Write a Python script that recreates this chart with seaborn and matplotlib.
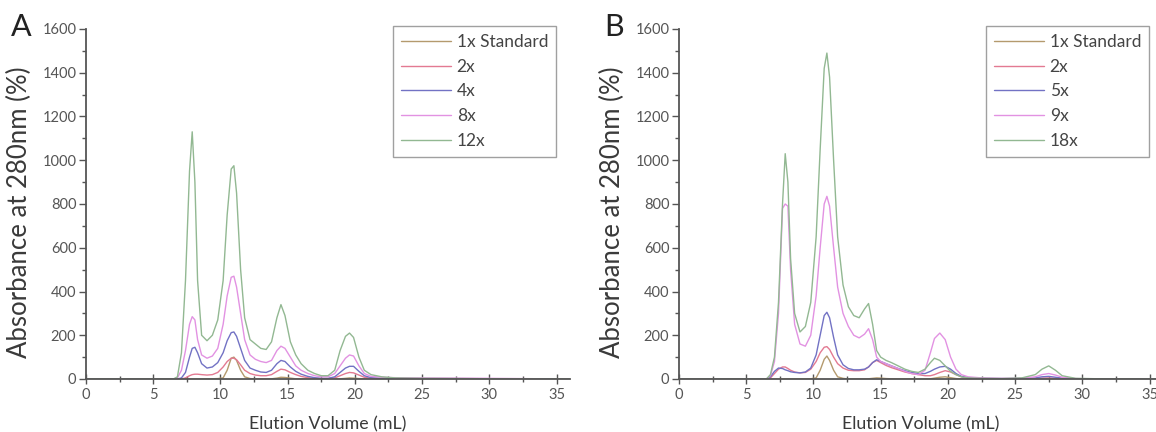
import numpy as np
import pandas as pd
import matplotlib
matplotlib.use("Agg")
import matplotlib.pyplot as plt
import seaborn as sns
from matplotlib.ticker import MultipleLocator

# ---------------- data ----------------
series_a = ["1x Standard", "2x", "4x", "8x", "12x"]
series_b = ["1x Standard", "2x", "5x", "9x", "18x"]

xa = [0, 6.5, 6.8, 7.1, 7.4, 7.7, 7.9, 8.1, 8.3, 8.6, 9.0, 9.4, 9.8, 10.2, 10.5, 10.8, 11.0, 11.2,
      11.5, 11.8, 12.2, 12.6, 13.0, 13.4, 13.8, 14.2, 14.5, 14.8, 15.2, 15.6, 16.0, 16.5, 17.0,
      17.5, 18.0, 18.5, 18.9, 19.3, 19.6, 19.9, 20.3, 20.7, 21.2, 22.0, 23.0, 25.0, 28.0, 32.0, 36.0]

a_1x = [0, 0, 0, 0, 0, 0, 0, 0, 0, 0, 0, 1, 2, 5, 40, 95, 100, 85,
        40, 10, 2, 0, 0, 0, 1, 4, 8, 7, 4, 1, 0, 0, 0,
        0, 0, 0, 1, 3, 5, 4, 2, 1, 0, 0, 0, 0, 0, 0, 0]
a_2x = [0, 0, 0, 0, 5, 15, 20, 22, 22, 20, 18, 20, 30, 55, 80, 95, 95, 88,
        65, 40, 25, 18, 15, 15, 20, 35, 45, 42, 30, 20, 12, 6, 3,
        2, 2, 5, 15, 25, 30, 28, 18, 8, 3, 2, 1, 1, 0, 0, 0]
a_4x = [0, 0, 0, 5, 30, 100, 140, 145, 120, 70, 50, 55, 75, 120, 175, 212, 215, 195,
        140, 85, 50, 40, 32, 30, 40, 70, 85, 80, 55, 35, 22, 12, 6,
        3, 3, 10, 30, 50, 58, 58, 35, 15, 6, 3, 2, 1, 1, 0, 0]
a_8x = [0, 0, 5, 40, 130, 250, 285, 270, 180, 110, 95, 105, 140, 250, 380, 465, 470, 420,
        300, 180, 110, 90, 80, 75, 85, 130, 150, 140, 100, 60, 40, 25, 15,
        10, 10, 25, 60, 95, 110, 105, 60, 25, 12, 8, 6, 5, 4, 2, 0]
a_12x = [0, 0, 10, 120, 450, 950, 1130, 900, 450, 200, 175, 200, 270, 450, 750, 960, 975, 850,
         500, 280, 180, 160, 140, 135, 170, 280, 340, 290, 170, 110, 70, 40, 25,
         15, 15, 40, 130, 195, 210, 190, 100, 40, 20, 10, 5, 3, 2, 0, 0]

xb = [0, 6.5, 6.8, 7.1, 7.4, 7.7, 7.9, 8.1, 8.3, 8.6, 9.0, 9.4, 9.8, 10.2, 10.5, 10.8, 11.0, 11.2,
      11.5, 11.8, 12.2, 12.6, 13.0, 13.4, 13.8, 14.1, 14.4, 14.7, 15.0, 15.4, 15.8, 16.3, 16.8,
      17.3, 17.8, 18.3, 18.7, 19.0, 19.4, 19.8, 20.2, 20.6, 21.0, 21.5, 22.5, 24.0, 25.5, 26.5,
      27.0, 27.5, 28.0, 28.5, 29.5, 32.0, 36.0]

b_1x = [0, 0, 0, 0, 0, 0, 0, 0, 0, 0, 0, 0, 1, 5, 40, 90, 105, 85,
        40, 10, 3, 0, 0, 0, 0, 1, 3, 5, 4, 2, 1, 0, 0,
        0, 0, 0, 1, 4, 8, 10, 6, 2, 0, 0, 0, 0, 0, 0,
        0, 0, 0, 0, 0, 0, 0]
b_2x = [0, 0, 5, 25, 45, 55, 55, 48, 40, 32, 28, 30, 45, 80, 120, 145, 148, 135,
        100, 70, 50, 40, 38, 38, 42, 55, 75, 85, 75, 62, 52, 42, 32,
        25, 20, 15, 15, 20, 30, 38, 32, 20, 10, 5, 2, 1, 1, 2,
        4, 5, 3, 1, 0, 0, 0]
b_5x = [0, 0, 10, 35, 50, 48, 42, 38, 33, 30, 28, 32, 50, 110, 200, 290, 305, 280,
        190, 110, 65, 48, 42, 42, 45, 55, 75, 88, 80, 70, 60, 48, 38,
        30, 25, 25, 35, 45, 55, 58, 45, 25, 12, 6, 3, 2, 2, 5,
        10, 12, 8, 4, 1, 0, 0]
b_9x = [0, 0, 15, 80, 300, 780, 800, 790, 500, 250, 160, 150, 200, 380, 600, 800, 835, 790,
        600, 420, 300, 240, 200, 188, 205, 230, 180, 100, 80, 70, 60, 48, 35,
        25, 20, 40, 120, 185, 210, 180, 100, 45, 20, 10, 5, 3, 4, 10,
        20, 25, 18, 8, 2, 0, 0]
b_18x = [0, 0, 20, 100, 350, 800, 1030, 900, 550, 300, 215, 240, 350, 650, 1050, 1420, 1490, 1380,
         1000, 650, 430, 330, 290, 280, 320, 345, 250, 130, 100, 85, 75, 60, 45,
         35, 30, 45, 75, 95, 85, 60, 35, 20, 10, 5, 3, 2, 5, 20,
         45, 60, 40, 15, 3, 0, 0]

colors = ["#b49a6e", "#e37a92", "#7272c4", "#e292e2", "#92b892"]

x_ticks = [0, 5, 10, 15, 20, 25, 30, 35]
y_ticks = [0, 200, 400, 600, 800, 1000, 1200, 1400, 1600]

# ---------------- style ----------------
sns.set_theme(style="ticks")
plt.rcParams["font.family"] = ["Lato", "DejaVu Sans"]

W, H = 1156, 432
fig = plt.figure(figsize=(W / 100, H / 100), dpi=100)

def make_df(x, names, vals):
    frames = []
    for n, v in zip(names, vals):
        frames.append(pd.DataFrame({"x": x, "y": v, "series": n}))
    return pd.concat(frames, ignore_index=True)

panels = [
    (86, "A", xa, series_a, [a_1x, a_2x, a_4x, a_8x, a_12x]),
    (679, "B", xb, series_b, [b_1x, b_2x, b_5x, b_9x, b_18x]),
]

gray = "#555555"
for left_px, letter, x, names, vals in panels:
    ax = fig.add_axes([left_px / W, 53 / H, 484 / W, 350 / H])
    df = make_df(x, names, vals)
    sns.lineplot(data=df, x="x", y="y", hue="series", hue_order=names,
                 palette=colors, estimator=None, lw=1.0, ax=ax, legend=False)
    ax.set_xlim(0, 36)
    ax.set_ylim(0, 1600)
    ax.set_xticks(x_ticks)
    ax.set_yticks(y_ticks)
    ax.xaxis.set_minor_locator(MultipleLocator(2.5))
    ax.yaxis.set_minor_locator(MultipleLocator(100))
    for s in ["top", "right"]:
        ax.spines[s].set_visible(False)
    for s in ["left", "bottom"]:
        ax.spines[s].set_color(gray)
        ax.spines[s].set_linewidth(1.3)
    ax.tick_params(axis="y", which="major", direction="out", length=5, width=1,
                   color=gray, labelcolor=gray, labelsize=10.5, pad=2)
    ax.tick_params(axis="y", which="minor", direction="out", length=3, width=1, color=gray)
    ax.tick_params(axis="x", which="major", direction="inout", length=7, width=1,
                   color=gray, labelcolor=gray, labelsize=10.5, pad=3)
    ax.tick_params(axis="x", which="minor", direction="inout", length=4, width=1, color=gray)

    ax.set_ylabel("Absorbance at 280nm (%)", fontsize=18.5, color="#3a3a3a")
    ax.yaxis.set_label_coords(-0.138, 0.475)
    ax.yaxis.label.set_va("center")
    ax.set_xlabel("Elution Volume (mL)", fontsize=12.8, color="#3a3a3a")
    ax.xaxis.set_label_coords(0.5, -0.13)
    ax.xaxis.label.set_va("center")

    handles = ax.get_lines()[:5]
    leg = ax.legend(handles=handles, labels=names, loc="upper right",
                    bbox_to_anchor=(0.971, 1.008), borderaxespad=0,
                    fontsize=12.5, frameon=True, fancybox=False,
                    handlelength=2.9, handletextpad=0.3, labelspacing=0.5,
                    borderpad=0.45)
    leg.get_frame().set_edgecolor("#888888")
    leg.get_frame().set_linewidth(1.0)
    for t in leg.get_texts():
        t.set_color("#444444")

    fig.text((left_px - 65) / W, 1 - 27 / H, letter, fontsize=22,
             ha="center", va="center", color="#222222")

fig.savefig("out.png", dpi=100)
